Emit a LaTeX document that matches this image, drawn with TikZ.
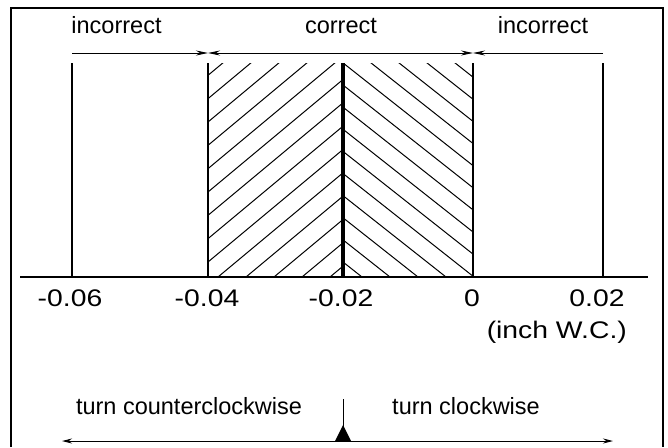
\documentclass[tikz,border=0pt]{standalone}
\usepackage{graphicx}
\usepackage{fontspec}
\setmainfont{Liberation Sans}
\usetikzlibrary{arrows.meta}

\newcommand{\widenum}[1]{\scalebox{1.18}[1]{#1}}

\begin{document}
\begin{tikzpicture}[x=1pt,y=-1pt,
    lbl/.style={font=\fontsize{23.5}{28}\selectfont, inner sep=0pt, anchor=base},
    numlbl/.style={font=\fontsize{24}{28}\selectfont, inner sep=0pt, anchor=base},
    limit/.style={line width=2pt},
    hatch/.style={line width=1pt},
    span/.style={line width=1pt, >={Stealth[length=12pt,width=5pt]}},
    turn/.style={line width=1pt, >={Stealth[length=10pt,width=5pt]}}]
    \useasboundingbox (0,0) rectangle (668,447);

    % frame, open at the bottom
    \draw[line width=2.2pt] (11,447) -- (11,8) -- (663,8) -- (663,447);

    % tick positions on the axis
    \coordinate (m06) at (72,277);
    \coordinate (m04) at (208,277);
    \coordinate (m02) at (343,277);
    \coordinate (z0) at (473,277);
    \coordinate (p02) at (603,277);
    \coordinate (top) at (0,63);
    \coordinate (arr) at (0,53);

    % hatching of the correct band
    \begin{scope}
        \clip (m04 |- top) rectangle (m02);
        \foreach \k in {0,...,13}
            \draw[hatch] (330-28*\k,277) -- ++(300,-250);
    \end{scope}
    \begin{scope}
        \clip (m02 |- top) rectangle (z0);
        \foreach \k in {0,...,13}
            \draw[hatch] (362+28*\k,277) -- ++(-300,-237);
    \end{scope}

    % limit lines and axis
    \foreach \p in {m06,m04,z0,p02}
        \draw[limit] (\p) -- (\p |- top);
    \draw[line width=4.5pt] (m02) -- (m02 |- top);
    \coordinate (axl) at (20,277);
    \coordinate (axr) at (648,277);
    \draw[line width=1.8pt] (axl) -- (axr);

    % ranges on top
    \draw[span, ->] (m06 |- arr) -- (m04 |- arr);
    \draw[span, <->] (m04 |- arr) -- (z0 |- arr);
    \draw[span, ->] (p02 |- arr) -- (z0 |- arr);
    \node[lbl] (inc1) at (116.5,33) {incorrect};
    \node[lbl] (corr) at (341,33) {correct};
    \node[lbl] (inc2) at (543,33) {incorrect};

    % scale values
    \node[numlbl] (n06) at (70,306.7) {\widenum{-0.06}};
    \node[numlbl] (n04) at (207,306.7) {\widenum{-0.04}};
    \node[numlbl] (n02) at (341,306.7) {\widenum{-0.02}};
    \node[numlbl] (n0) at (472,306.7) {\widenum{0}};
    \node[numlbl] (n2) at (597,306.7) {\widenum{0.02}};
    \node[numlbl, anchor=base east] (unit) at (627,338) {\widenum{(inch W.C.)}};

    % turning direction
    \coordinate (rl) at (62,441);
    \coordinate (rr) at (613,441);
    \coordinate (ptr) at (343,441);
    \draw[turn, <->] (rl) -- (rr);
    \draw[line width=1pt] (ptr) -- ++(0,-42);
    \fill (ptr) ++(-8,0) -- ++(16,0) -- ++(-8,-16) -- cycle;
    \node[lbl] (ccw) at (189,414) {turn counterclockwise};
    \node[lbl] (cw) at (466,414) {turn clockwise};
\end{tikzpicture}
\end{document}
